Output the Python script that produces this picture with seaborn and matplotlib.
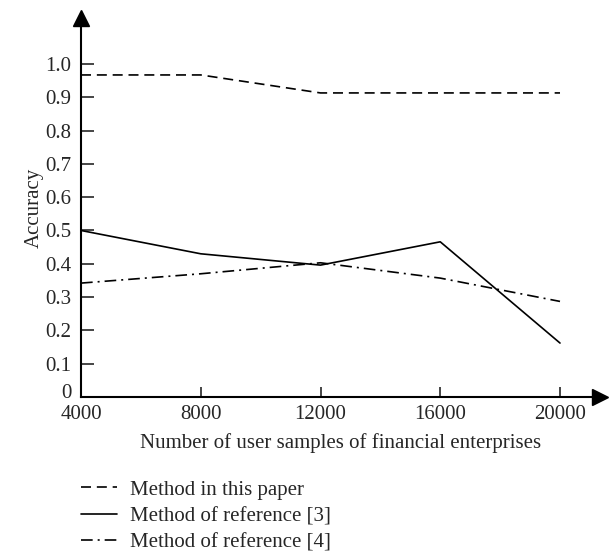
import pandas as pd
import matplotlib.pyplot as plt
import matplotlib.transforms as mtransforms
import seaborn as sns

# Data
samples = [4000, 8000, 12000, 16000, 20000]
acc_this_paper = [0.967, 0.967, 0.913, 0.913, 0.913]
acc_ref3 = [0.500, 0.430, 0.396, 0.466, 0.162]
acc_ref4 = [0.342, 0.370, 0.403, 0.357, 0.287]
methods = ["Method in this paper", "Method of reference [3]", "Method of reference [4]"]

df = pd.DataFrame({
    "samples": samples * 3,
    "accuracy": acc_this_paper + acc_ref3 + acc_ref4,
    "method": [methods[0]] * 5 + [methods[1]] * 5 + [methods[2]] * 5,
})

sns.set_style("white")
plt.rcParams["font.family"] = ["Liberation Serif", "DejaVu Serif"]

fig = plt.figure(figsize=(6.12, 5.53), dpi=100)
ax = fig.add_axes([81 / 612, 1 - 397 / 553, 519 / 612, 379 / 553])

sns.lineplot(
    data=df, x="samples", y="accuracy", style="method", ax=ax,
    color="black", linewidth=1.2,
    dashes={methods[0]: (6, 3.5), methods[1]: "", methods[2]: (7, 3, 1.2, 3)},
)

# axes styling
ax.set_xlim(4000, 21336)
ax.set_ylim(0, 1.138)
ax.set_xticks(samples)
ax.set_yticks([0, 0.1, 0.2, 0.3, 0.4, 0.5, 0.6, 0.7, 0.8, 0.9, 1.0])
ax.set_yticklabels(["0", "0.1", "0.2", "0.3", "0.4", "0.5", "0.6", "0.7", "0.8", "0.9", "1.0"])
ax.tick_params(axis="y", direction="in", length=9.5, width=1.2, labelsize=15, pad=7,
               left=True)
ax.tick_params(axis="x", direction="in", length=7.5, width=1.2, labelsize=15, pad=6,
               bottom=True)
for s in ["top", "right"]:
    ax.spines[s].set_visible(False)
for s in ["left", "bottom"]:
    ax.spines[s].set_linewidth(1.5)
    ax.spines[s].set_color("black")

# nudge the "0" label up a little so it clears "4000"
zero_lbl = ax.get_yticklabels()[0]
zero_lbl.set_transform(zero_lbl.get_transform() +
                       mtransforms.ScaledTranslation(0, 6 / 100, fig.dpi_scale_trans))

# arrow heads
ax.plot(1, 0, ">k", markersize=12, transform=ax.get_yaxis_transform(), clip_on=False)
ax.plot(4000, 1, "^k", markersize=12, transform=ax.get_xaxis_transform(), clip_on=False)

ax.set_xlabel("Number of user samples of financial enterprises", fontsize=15, labelpad=6)
ax.set_ylabel("Accuracy", fontsize=15, labelpad=1)

# legend below the chart
handles, labels = ax.get_legend_handles_labels()
ax.get_legend().remove()
fig.legend(handles, labels, loc="upper left", bbox_to_anchor=(81 / 612, 1 - 480 / 553),
           frameon=False, fontsize=15, handlelength=1.75, handletextpad=0.6,
           labelspacing=0.33, borderpad=0, borderaxespad=0)

fig.savefig("out.png", dpi=100)
